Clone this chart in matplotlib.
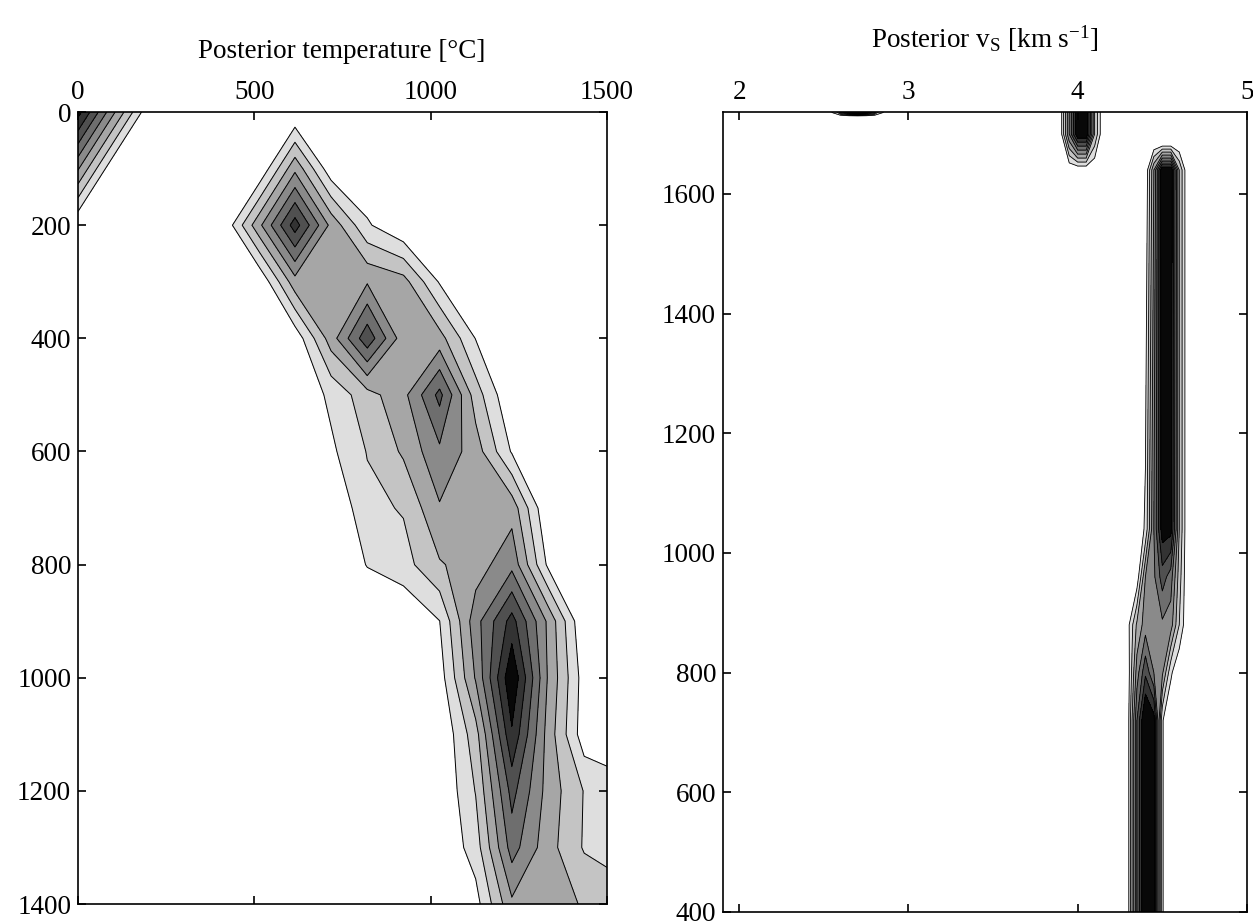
import matplotlib.pyplot as plt

plt.rcParams['font.family'] = ['Liberation Serif', 'DejaVu Serif']
plt.rcParams['mathtext.fontset'] = 'custom'
plt.rcParams['mathtext.rm'] = 'Liberation Serif'
plt.rcParams['mathtext.it'] = 'Liberation Serif:italic'

# ---- left panel: posterior temperature (counts per bin) ----
temp_nodes = [0, 102.5, 205, 307.5, 410, 512.5, 615, 717.5, 820, 922.5,
              1025, 1127.5, 1230, 1332.5, 1435, 1537.5, 1640]
depth_nodes = [0, 100, 200, 300, 400, 500, 600, 700, 800, 900, 1000,
               1100, 1200, 1300, 1400]
temp_counts = [
    [8.4, 4.1, 0, 0, 0, 0, 0, 0, 0, 0, 0, 0, 0, 0, 0, 0, 0],
    [4.1, 0, 0, 0, 0, 0, 3.75, 0.3, 0, 0, 0, 0, 0, 0, 0, 0, 0],
    [0, 0, 0, 0, 0, 3.7, 7.5, 3.7, 1.15, 0, 0, 0, 0, 0, 0, 0, 0],
    [0, 0, 0, 0, 0, 0, 3.6, 3.6, 3.9, 3.4, 0.9, 0, 0, 0, 0, 0, 0],
    [0, 0, 0, 0, 0, 0, 0.3, 3.5, 6.7, 3.4, 3.4, 0.96, 0, 0, 0, 0, 0],
    [0, 0, 0, 0, 0, 0, 0, 1.25, 2.6, 3.7, 6.3, 2.5, 0, 0, 0, 0, 0],
    [0, 0, 0, 0, 0, 0, 0, 0.8, 2.05, 3.15, 4.8, 3.5, 0.9, 0, 0, 0, 0],
    [0, 0, 0, 0, 0, 0, 0, 0, 1.72, 2.09, 3.9, 3.6, 3.6, 0, 0, 0, 0],
    [0, 0, 0, 0, 0, 0, 0, 0, 1.05, 1.6, 2.9, 3.5, 4.7, 0.8, 0, 0, 0],
    [0, 0, 0, 0, 0, 0, 0, 0, 0, 0, 0.98, 4.6, 7.4, 3.8, 0, 0, 0],
    [0, 0, 0, 0, 0, 0, 0, 0, 0, 0, 0.5, 4.1, 8.9, 3.9, 0.5, 0, 0],
    [0, 0, 0, 0, 0, 0, 0, 0, 0, 0, 0, 2.6, 7.85, 3.6, 0.4, 0, 0],
    [0, 0, 0, 0, 0, 0, 0, 0, 0, 0, 0, 2.05, 6.36, 3.6, 1.95, 1.5, 1.5],
    [0, 0, 0, 0, 0, 0, 0, 0, 0, 0, 0, 1.5, 5.44, 3.4, 1.9, 1.7, 1.7],
    [0, 0, 0, 0, 0, 0, 0, 0, 0, 0, 0, 0.6, 3.8, 3.5, 2.9, 2.3, 2.4],
]

# ---- right panel: posterior vs, main stripe ----
vs_main = [4.2, 4.25, 4.3, 4.35, 4.4, 4.45, 4.5, 4.55, 4.6, 4.65, 4.7]
z_main = [400, 720, 800, 880, 960, 1040, 1640, 1685]
vs_main_counts = [
    [0, 0, 0.8, 6.0, 9.5, 8.5, 1.1, 0, 0, 0, 0],
    [0, 0, 0.8, 6.0, 9.5, 8.5, 1.1, 0, 0, 0, 0],
    [0, 0, 0.6, 4.5, 6.8, 5.0, 4.2, 1.2, 0, 0, 0],
    [0, 0, 0.8, 3.2, 4.5, 4.6, 4.8, 4.5, 2.0, 0, 0],
    [0, 0, 0, 0.3, 4.0, 4.8, 6.5, 5.5, 2.5, 0, 0],
    [0, 0, 0, 0, 1.2, 5.0, 8.6, 8.4, 3.0, 0, 0],
    [0, 0, 0, 0, 0, 4.0, 9.0, 9.0, 3.0, 0, 0],
    [0, 0, 0, 0, 0, 0, 0, 0, 0, 0, 0],
]

# ---- right panel: small features at the top edge ----
vs_top = [2.5, 2.55, 2.6, 2.65, 2.7, 2.75, 2.8, 2.85, 2.9,
          3.85, 3.9, 3.95, 4.0, 4.05, 4.1, 4.15, 4.2]
z_top = [1640, 1700, 1730, 1760]
vs_top_counts = [
    [0, 0, 0, 0, 0, 0, 0, 0, 0, 0, 0, 0, 0, 0, 0, 0, 0],
    [0, 0, 0, 0, 0, 0, 0, 0, 0, 0, 0.5, 5, 9, 9, 3, 0, 0],
    [0, 0, 0, 0, 0, 0, 0, 0, 0, 0, 0.5, 5, 9, 9, 3, 0, 0],
    [0, 5, 20, 40, 60, 40, 20, 5, 0, 0, 0.5, 5, 9, 9, 3, 0, 0],
]

levels = [1, 2, 3, 4, 5, 6, 7, 8, 100]
fills = ['#dedede', '#c4c4c4', '#a6a6a6', '#8a8a8a',
         '#6e6e6e', '#505050', '#333333', '#080808']

fig = plt.figure(figsize=(12.53, 9.24), dpi=100)
ax1 = fig.add_axes([0.0623, 0.0216, 0.4222, 0.8571])
ax2 = fig.add_axes([0.5770, 0.0130, 0.4182, 0.8658])

ax1.contourf(temp_nodes, depth_nodes, temp_counts, levels=levels, colors=fills)
ax1.contour(temp_nodes, depth_nodes, temp_counts, levels=levels[:-1],
            colors='k', linewidths=0.7)
ax1.set_xlim(0, 1500)
ax1.set_ylim(1400, 0)
ax1.set_xticks([0, 500, 1000, 1500])
ax1.set_yticks(range(0, 1401, 200))

for xs, zs, cs in [(vs_main, z_main, vs_main_counts),
                   (vs_top, z_top, vs_top_counts)]:
    ax2.contourf(xs, zs, cs, levels=levels, colors=fills)
    ax2.contour(xs, zs, cs, levels=levels[:-1], colors='k', linewidths=0.6)
ax2.set_xlim(1.905, 5.0)
ax2.set_ylim(400, 1737)
ax2.set_xticks([2, 3, 4, 5])
ax2.set_yticks(range(400, 1601, 200))

for ax in (ax1, ax2):
    ax.tick_params(direction='in', top=True, right=True, bottom=True, left=True,
                   labeltop=True, labelbottom=False, length=6, width=1.2,
                   labelsize=19.5, pad=5)
    for s in ax.spines.values():
        s.set_linewidth(1.2)

fig.text(342 / 1253, 1 - 58 / 924, 'Posterior temperature [°C]',
         ha='center', va='baseline', fontsize=19.5)
fig.text(985 / 1253, 1 - 48 / 924, r'Posterior v$_\mathrm{S}$ [km s$^{-1}$]',
         ha='center', va='baseline', fontsize=19.5)

fig.savefig('out.png', dpi=100)
